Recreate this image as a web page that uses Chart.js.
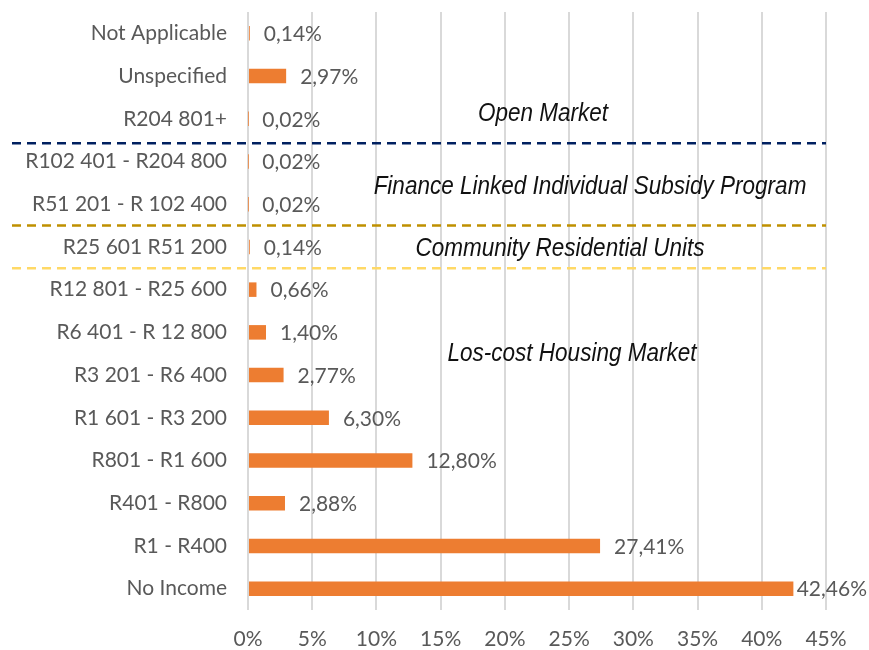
<!DOCTYPE html>
<html>
<head>
<meta charset="utf-8">
<script src="https://cdn.jsdelivr.net/npm/chart.js@4/dist/chart.umd.min.js"></script>
<style>
  html, body { margin: 0; padding: 0; background: #fff; }
  #wrap { width: 869px; height: 650px; position: relative; }
</style>
</head>
<body>
<div id="wrap"><canvas id="chart"></canvas></div>
<script>
const categories = [
  "Not Applicable", "Unspecified", "R204 801+", "R102 401 - R204 800",
  "R51 201 - R 102 400", "R25 601 R51 200", "R12 801 - R25 600",
  "R6 401 - R 12 800", "R3 201 - R6 400", "R1 601 - R3 200",
  "R801 - R1 600", "R401 - R800", "R1 - R400", "No Income"
];
const shares = [0.14, 2.97, 0.02, 0.02, 0.02, 0.14, 0.66, 1.40, 2.77, 6.30, 12.80, 2.88, 27.41, 42.46];
const xTicks = [0, 5, 10, 15, 20, 25, 30, 35, 40, 45];

// dashed separators (position in category units) and group captions
const separators = [
  { at: 2.57, color: "#002060" },
  { at: 4.5, color: "#BF9000" },
  { at: 5.5, color: "#FFD966" }
];
const groups = [
  { text: "Open Market", at: 1.9, x: 543 },
  { text: "Finance Linked Individual Subsidy Program", at: 3.6, x: 590 },
  { text: "Community Residential Units", at: 5.05, x: 560 },
  { text: "Los-cost Housing Market", at: 7.5, x: 572 }
];

const fmt = (v) => v.toFixed(2).replace(".", ",") + "%";
const labelFont = "Lato, 'Open Sans', sans-serif";

const overlay = {
  id: "overlay",
  afterDatasetsDraw(chart) {
    const { ctx, scales: { x, y } } = chart;
    const meta = chart.getDatasetMeta(0);
    ctx.save();
    // value labels
    ctx.font = "21px " + labelFont;
    ctx.fillStyle = "#595959";
    ctx.textBaseline = "middle";
    ctx.textAlign = "left";
    meta.data.forEach((bar, i) => {
      const t = fmt(shares[i]);
      const w = ctx.measureText(t).width;
      const px = Math.min(bar.x + 14, chart.width - w - 2);
      ctx.fillText(t, px, bar.y + 1);
    });
    // dashed separators
    ctx.lineWidth = 2.5;
    ctx.setLineDash([9, 6]);
    separators.forEach((s) => {
      const py = y.getPixelForValue(s.at);
      ctx.strokeStyle = s.color;
      ctx.beginPath();
      ctx.moveTo(12, py);
      ctx.lineTo(x.right, py);
      ctx.stroke();
    });
    ctx.setLineDash([]);
    // group captions
    ctx.fillStyle = "#111";
    ctx.textAlign = "center";
    ctx.font = "italic 25px 'Liberation Sans', Arial, sans-serif";
    groups.forEach((g) => {
      const py = y.getPixelForValue(g.at);
      ctx.save();
      ctx.translate(g.x, py);
      ctx.scale(0.9, 1);
      ctx.fillText(g.text, 0, 0);
      ctx.restore();
    });
    ctx.restore();
  }
};

new Chart(document.getElementById("chart"), {
  type: "bar",
  data: {
    labels: categories,
    datasets: [{
      data: shares,
      backgroundColor: "#ED7D31",
      borderWidth: 0,
      barPercentage: 0.34,
      categoryPercentage: 1
    }]
  },
  options: {
    indexAxis: "y",
    responsive: true,
    maintainAspectRatio: false,
    animation: false,
    layout: { padding: { top: 12, right: 43, bottom: 0, left: 0 } },
    plugins: { legend: { display: false }, tooltip: { enabled: false } },
    scales: {
      x: {
        min: 0,
        max: 45,
        afterBuildTicks: (s) => { s.ticks = xTicks.map((v) => ({ value: v })); },
        afterFit: (s) => { s.height = 40; s.paddingLeft = 0; s.paddingRight = 0; },
        grid: { color: "#D9D9D9", lineWidth: 2, drawTicks: false },
        border: { display: false },
        ticks: {
          padding: 17,
          color: "#595959",
          font: { family: labelFont, size: 21 },
          callback: (v) => v + "%"
        }
      },
      y: {
        afterFit: (s) => { s.width = 248; s.paddingTop = 0; s.paddingBottom = 0; },
        grid: { display: false },
        border: { display: false },
        ticks: {
          padding: 13,
          color: "#595959",
          font: { family: labelFont, size: 21 }
        }
      }
    }
  },
  plugins: [overlay]
});
</script>
</body>
</html>
